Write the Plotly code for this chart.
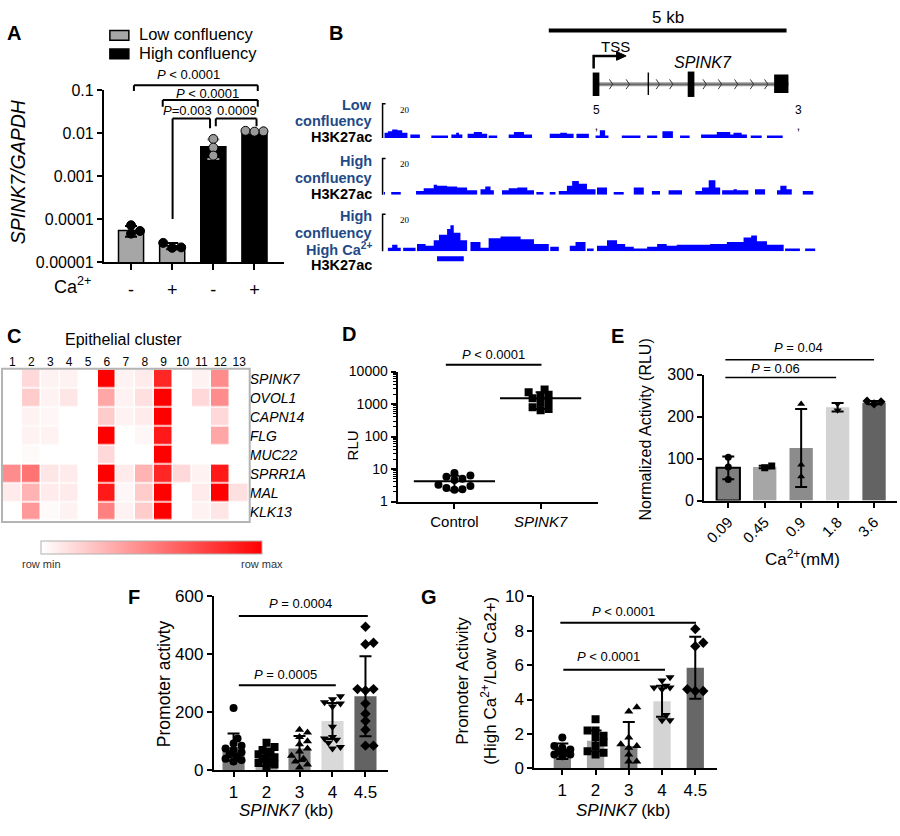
import numpy as np
import plotly.graph_objects as go

W, H = 900, 836
FONT = "Liberation Sans, Arial, sans-serif"

# ---------------- DATA ----------------
# Panel A
a_groups = ["Low confluency", "High confluency"]
a_ca = ["-", "+", "-", "+"]
a_mean = [5.4e-5, 2.4e-5, 4.8e-3, 1.05e-2]
a_sd = [1.5e-5, 0.4e-5, 2.3e-3, 0.05e-2]
a_points = [[7.2e-5, 5.3e-5, 4.6e-5], [2.8e-5, 2.2e-5, 2.15e-5],
            [7.3e-3, 4.6e-3, 3.0e-3], [1.13e-2, 1.1e-2, 1.08e-2]]
a_colors = ["#a6a6a6", "black"]

# Panel B: H3K27ac signal segments (start kb, end kb, height)
trk_low = [(0.02, 0.09, 3), (0.09, 0.18, 4), (0.18, 0.29, 5), (0.29, 0.39, 4.5), (0.39, 0.50, 3),
           (0.56, 0.76, 2), (1.00, 1.35, 1.5), (1.42, 1.52, 2), (1.52, 1.58, 3), (1.58, 1.65, 2),
           (1.76, 1.89, 2.5), (1.89, 2.06, 3.5), (2.06, 2.17, 2.5), (2.20, 2.38, 1.5),
           (2.62, 2.73, 2), (2.73, 2.94, 3.5), (2.94, 3.11, 2), (3.48, 3.70, 2.5), (3.70, 3.84, 3),
           (3.84, 3.98, 2.5), (4.04, 4.30, 2.5), (4.44, 4.53, 1.5), (4.53, 4.64, 4.5), (4.64, 4.71, 1.5),
           (4.99, 5.38, 1.5), (5.52, 5.73, 1.5), (5.84, 6.06, 4), (6.21, 6.41, 1.5),
           (6.65, 6.98, 2), (6.98, 7.26, 3.5), (7.26, 7.33, 2), (7.33, 7.50, 3), (7.50, 7.61, 2),
           (7.69, 7.92, 1.5), (8.03, 8.36, 1.5)]
trk_high = [(0.0, 0.03, 1.5), (0.16, 0.36, 1.5), (0.68, 0.84, 2), (0.84, 1.05, 3.5), (1.05, 1.12, 5.5),
            (1.12, 1.33, 5), (1.33, 1.54, 4.5), (1.54, 1.75, 4), (1.75, 1.96, 2.5),
            (2.03, 2.13, 3), (2.13, 2.24, 4.5), (2.24, 2.31, 2.5), (2.48, 2.62, 2.5), (2.62, 2.80, 3.5),
            (2.80, 3.01, 4), (3.01, 3.15, 2.5), (3.20, 3.35, 1.5), (3.48, 3.60, 1.5),
            (3.67, 3.84, 2), (3.84, 3.95, 5), (3.95, 4.09, 7.5), (4.09, 4.26, 6), (4.26, 4.44, 3),
            (4.47, 4.68, 4), (4.82, 5.03, 1.5), (5.24, 5.45, 4), (5.62, 5.79, 2), (5.97, 6.25, 2.5),
            (6.53, 6.67, 2), (6.67, 6.81, 4), (6.81, 6.95, 8), (6.95, 7.05, 4),
            (7.09, 7.33, 2.5), (7.33, 7.40, 3), (7.40, 7.64, 2.5), (7.78, 7.99, 3),
            (8.24, 8.31, 2.5), (8.31, 8.44, 5), (8.44, 8.55, 3), (8.78, 9.00, 2)]
trk_ca = [(0.09, 0.18, 2), (0.18, 0.29, 3.5), (0.29, 0.36, 2), (0.41, 0.67, 2),
          (0.70, 0.88, 4), (0.88, 1.05, 3), (1.05, 1.16, 6), (1.16, 1.33, 9), (1.33, 1.40, 12),
          (1.40, 1.47, 14), (1.47, 1.61, 10), (1.61, 1.75, 6), (1.82, 2.03, 5), (2.03, 2.20, 2),
          (2.20, 2.45, 7), (2.45, 2.87, 8), (2.87, 3.15, 6.5), (3.15, 3.46, 4), (3.49, 3.67, 2.5),
          (3.90, 4.02, 3), (4.02, 4.23, 5), (4.26, 4.40, 1.5), (4.47, 4.68, 3), (4.68, 4.89, 6),
          (4.89, 5.06, 4), (5.06, 5.24, 2.5), (5.24, 5.52, 1.5), (5.52, 5.73, 2.5), (5.73, 5.93, 4),
          (5.93, 6.14, 3), (6.14, 6.49, 3.5), (6.49, 6.84, 3.5), (6.84, 7.19, 4), (7.19, 7.54, 5),
          (7.54, 7.70, 7.5), (7.70, 7.82, 8.5), (7.82, 8.03, 5.5), (8.03, 8.38, 3.5),
          (8.41, 8.72, 1.5), (8.83, 9.04, 1.5)]
track_names = [["Low", "confluency", "H3K27ac"],
               ["High", "confluency", "H3K27ac"],
               ["High", "confluency", "High Ca<sup>2+</sup>", "H3K27ac"]]
gene_tss = 4.40
gene_end = 8.48
gene_exons = [(4.38, 4.52, 65, 89), (5.53, 5.56, 65, 88), (6.37, 6.51, 64, 90), (8.18, 8.48, 67, 86)]
intron_marks = [4.78, 5.13, 5.76, 6.04, 6.74, 7.06, 7.40, 7.73, 8.03]
scale_bar = (3.46, 8.44)
enhancer = (1.12, 1.68)

# Panel C heatmap
c_clusters = list(range(1, 14))
c_genes = ["SPINK7", "OVOL1", "CAPN14", "FLG", "MUC22", "SPRR1A", "MAL", "KLK13"]
c_z = [
    [0, 0.15, 0.05, 0.05, 0, 1.0, 0.05, 0.08, 0.85, 0, 0.05, 0.45, 0],
    [0, 0.2, 0.05, 0.1, 0, 0.35, 0.05, 0.12, 1.0, 0, 0.15, 0.45, 0],
    [0, 0.05, 0.03, 0, 0, 0.2, 0.05, 0.08, 1.0, 0, 0, 0.15, 0],
    [0, 0.05, 0.05, 0, 0, 1.0, 0, 0.03, 0.9, 0, 0, 0.35, 0],
    [0, 0.02, 0, 0, 0, 0.15, 0, 0, 1.0, 0, 0, 0, 0],
    [0.45, 0.55, 0.1, 0.08, 0, 1.0, 0.08, 0.3, 0.85, 0.15, 0.05, 0.9, 0],
    [0.08, 0.3, 0.08, 0.08, 0, 0.9, 0.03, 0.2, 1.0, 0, 0.08, 1.0, 0.12],
    [0, 0.4, 0.02, 0.05, 0, 0.5, 0.05, 0.2, 1.0, 0, 0.05, 0.1, 0],
]

# Panel D
d_groups = ["Control", "SPINK7"]
d_points = [[7.5, 6.3, 5.8, 5.0, 4.6, 3.3, 3.0, 2.6, 2.4, 2.3],
            [2800, 2300, 1950, 1800, 1500, 1250, 1100, 800, 700, 650]]
d_mean = [4.2, 1500]
d_sd = [2.0, 800]

# Panel E
e_conc = ["0.09", "0.45", "0.9", "1.8", "3.6"]
e_mean = [78, 80, 125, 222, 233]
e_sd = [27, 3, 93, 10, 4]
e_points = [[103, 80, 50], [78, 82], [230, 85, 57], [230, 215], [230, 235, 237]]
e_colors = ["#7f7f7f", "#a6a6a6", "#8c8c8c", "#d3d3d3", "#636363"]

# Panel F
kb_labels = ["1", "2", "3", "4", "4.5"]
f_mean = [80, 45, 75, 170, 255]
f_sd = [47, 30, 43, 62, 138]
f_points = [[215, 110, 92, 85, 75, 70, 62, 55, 48, 40, 35, 30],
            [95, 80, 70, 60, 55, 50, 45, 40, 30, 25, 20, 15],
            [140, 130, 115, 100, 90, 75, 65, 50, 40, 30, 20, 10],
            [255, 245, 235, 230, 220, 150, 115, 110, 105, 95, 80, 75],
            [495, 440, 435, 280, 280, 275, 230, 195, 170, 140, 85, 85]]
f_colors = ["#7a7a7a", "#a9a9a9", "#808080", "#d9d9d9", "#636363"]

# Panel G
g_mean = [1.0, 1.6, 1.3, 3.9, 5.85]
g_sd = [0.45, 0.6, 1.4, 0.9, 1.8]
g_points = [[1.8, 1.3, 1.2, 1.1, 1.0, 0.9, 0.8, 0.8, 0.7],
            [2.85, 2.2, 2.2, 1.9, 1.8, 1.5, 1.3, 1.0, 0.9, 0.8],
            [3.55, 3.3, 1.8, 1.4, 1.3, 1.2, 0.8, 0.4, 0.4],
            [5.3, 5.1, 4.8, 4.7, 4.7, 4.6, 3.1, 2.8, 2.8],
            [8.1, 7.3, 7.1, 4.6, 4.5, 4.5]]
g_colors = ["#858585", "#aaaaaa", "#7f7f7f", "#d4d4d4", "#676767"]
symbols = ["circle", "square", "triangle-up", "triangle-down", "diamond"]


# ---------------- helpers ----------------
def xdom(a, b):
    return [a / W, b / W]


def ydom(top, bot):
    return [1 - bot / H, 1 - top / H]


def PX(x):
    return x / W


def PY(y):
    return 1 - y / H


def swarm(vals, center, ypx, xscale, size, maxoff):
    """simple beeswarm layout: horizontal offsets so that points do not pile up"""
    idx = sorted(range(len(vals)), key=lambda i: vals[i])
    step = size * 0.5
    dmin = size * 0.8
    cands = [0.0]
    j = 1
    while j * step <= maxoff:
        cands += [j * step, -j * step]
        j += 1
    placed = []
    xs = [0] * len(vals)
    for i in idx:
        yp = ypx(vals[i])
        best, bestd = 0.0, -1
        for off in cands:
            d = min([np.hypot(off - ox, yp - oy) for ox, oy in placed] or [1e9])
            if d >= dmin:
                best = off
                break
            if d > bestd:
                best, bestd = off, d
        placed.append((best, yp))
        xs[i] = center + best / xscale
    return xs


def lin_px(dom_px, rng):
    return lambda v: (v - rng[0]) / (rng[1] - rng[0]) * dom_px


def log_px(dom_px, rng):
    return lambda v: (np.log10(v) - rng[0]) / (rng[1] - rng[0]) * dom_px


annotations = []
shapes = []


def ann(text, x, y, size=13, xref="paper", xanchor="center", yanchor="middle", angle=0,
        color="black", family=FONT):
    annotations.append(dict(text=text, x=PX(x) if xref == "paper" else x, y=PY(y), xref=xref,
                            yref="paper", showarrow=False, xanchor=xanchor, yanchor=yanchor,
                            textangle=angle, font=dict(size=size, color=color, family=family)))


def hline(xref, x0, x1, y, width=2, color="black"):
    shapes.append(dict(type="line", xref=xref, yref="paper", x0=x0, x1=x1, y0=PY(y), y1=PY(y),
                       line=dict(color=color, width=width)))


def vline(xref, x, y0, y1, width=2, color="black"):
    shapes.append(dict(type="line", xref=xref, yref="paper", x0=x, x1=x, y0=PY(y0), y1=PY(y1),
                       line=dict(color=color, width=width)))


fig = go.Figure()
axc = dict(showline=True, linecolor="black", linewidth=2, ticks="outside", ticklen=5, tickwidth=2,
           tickcolor="black", showgrid=False, zeroline=False, fixedrange=True)

# ---------------- Panel A ----------------
A_x = [-0.66, 3.71]
A_y = [-5, -1]
a_ypx = log_px(259 - 83, A_y)
a_xs = 180 / (A_x[1] - A_x[0])
fig.add_trace(go.Bar(x=[0, 1], y=a_mean[0:2], name=a_groups[0], width=0.61,
                     marker=dict(color=a_colors[0], line=dict(color="black", width=1.5)),
                     error_y=dict(type="data", array=a_sd[0:2], color="black", thickness=2, width=6),
                     xaxis="x", yaxis="y"))
fig.add_trace(go.Bar(x=[2, 3], y=a_mean[2:4], name=a_groups[1], width=0.61,
                     marker=dict(color=a_colors[1], line=dict(color="black", width=1.5)),
                     error_y=dict(type="data", array=a_sd[2:4], color="#9a9a9a", thickness=2, width=6),
                     xaxis="x", yaxis="y"))
for i, pts in enumerate(a_points):
    fig.add_trace(go.Scatter(x=swarm(pts, i, a_ypx, a_xs, 9, 11), y=pts, mode="markers", showlegend=False,
                             marker=dict(size=9, color="black" if i < 2 else "#9a9a9a",
                                         line=dict(color="black", width=1)),
                             xaxis="x", yaxis="y"))
# legend (drawn as key boxes + labels)
for k, (name, col) in enumerate(zip(a_groups, a_colors)):
    yc = 27 + 19 * k
    shapes.append(dict(type="rect", xref="paper", yref="paper", x0=PX(109), x1=PX(128),
                       y0=PY(yc + 5), y1=PY(yc - 5), fillcolor=col, line=dict(color="black", width=1.5)))
    ann(name, 136, yc - 1, 16.5, xanchor="left")
# brackets A
hline("x", 0.07, 3.08, 78); vline("x", 0.07, 78, 84); vline("x", 3.08, 78, 84)
hline("x", 0.77, 3.08, 93); vline("x", 0.77, 93, 100); vline("x", 3.08, 93, 100)
hline("x", 1.01, 1.92, 112); vline("x", 1.01, 112, 215); vline("x", 1.92, 112, 122)
hline("x", 2.06, 3.05, 112); vline("x", 2.06, 112, 120); vline("x", 3.05, 112, 120)
ann("<i>P</i> < 0.0001", 1.40, 67, 13, xref="x")
ann("<i>P</i> < 0.0001", 1.86, 86, 13, xref="x")
ann("<i>P</i>=0.003", 1.38, 104, 13, xref="x")
ann("0.0009", 2.57, 104, 13, xref="x")
ann("<i>SPINK7/GAPDH</i>", 17, 166, 19.5, angle=-90)
ann("Ca<sup>2+</sup>", 72, 283, 18)

# ---------------- Panel B ----------------
for segs, ya in [(trk_low, "y2"), (trk_high, "y3"), (trk_ca, "y4")]:
    xs, ys = [], []
    for s, e, h in segs:
        xs += [s, s, e, e, s, None]
        ys += [0, h, h, 0, 0, None]
    fig.add_trace(go.Scatter(x=xs, y=ys, mode="lines", fill="toself", fillcolor="#0000ff",
                             line=dict(width=0, color="#0000ff"), showlegend=False, hoverinfo="skip",
                             xaxis="x2", yaxis=ya))
# scale bar and gene model
hline("x2", scale_bar[0], scale_bar[1], 22, width=4)
ann("5 kb", (scale_bar[0] + scale_bar[1]) / 2, 9, 17, xref="x2")
hline("x2", gene_tss, gene_end, 77, width=4, color="#9a9a9a")
hline("x2", gene_tss, gene_end, 77, width=1, color="#555555")
for x0, x1, t, b in gene_exons:
    shapes.append(dict(type="rect", xref="x2", yref="paper", x0=x0, x1=x1, y0=PY(b), y1=PY(t),
                       fillcolor="black", line=dict(width=0)))
for m in intron_marks:
    shapes.append(dict(type="path", xref="x2", yref="paper",
                       path=f"M {m - 0.05} {PY(72)} L {m + 0.02} {PY(77)} L {m - 0.05} {PY(82)}",
                       line=dict(color="#333333", width=1)))
# TSS bent arrow
shapes.append(dict(type="path", xref="x2", yref="paper",
                   path=f"M {gene_tss} {PY(61)} L {gene_tss} {PY(48)} L {gene_tss + 0.52} {PY(48)}",
                   line=dict(color="black", width=2.5)))
shapes.append(dict(type="path", xref="x2", yref="paper",
                   path=f"M {gene_tss + 0.48} {PY(43.5)} L {gene_tss + 0.68} {PY(48)} "
                        f"L {gene_tss + 0.48} {PY(52.5)} Z",
                   fillcolor="black", line=dict(color="black", width=1)))
ann("TSS", 4.85, 38, 15, xref="x2")
ann("<i>SPINK7</i>", 6.68, 55, 16, xref="x2")
ann("5<br>,", gene_tss + 0.05, 112, 12, xref="x2")
ann("3<br>,", 8.70, 112, 12, xref="x2")
shapes.append(dict(type="rect", xref="x2", yref="paper", x0=enhancer[0], x1=enhancer[1],
                   y0=PY(258), y1=PY(253), fillcolor="#0000ff", line=dict(width=0)))
BLUE = "#1f4a87"
line_y = [[98, 115, 131], [156, 173, 189], [212, 229, 246, 262]]
for (top, bot), names, ys_ in zip([(97, 132), (153, 190), (210, 248)], track_names, line_y):
    shapes.append(dict(type="path", xref="paper", yref="paper",
                       path=f"M {PX(385)} {PY(top)} L {PX(382)} {PY(top)} L {PX(382)} {PY(bot)}",
                       line=dict(color="black", width=1.5)))
    ann("20", 404, top + 6, 9, family="Liberation Serif, serif")
    for j, (nm, yy) in enumerate(zip(names, ys_)):
        col = "black" if j == len(names) - 1 else BLUE
        ann(f"<b>{nm}</b>", 373, yy, 14.5, xanchor="right", color=col)

# ---------------- Panel C ----------------
fig.add_trace(go.Heatmap(z=c_z, x=c_clusters, y=c_genes, zmin=0, zmax=1, xgap=1.5, ygap=1.5,
                         colorscale=[[0, "#ffffff"], [1, "#ff0000"]], hoverinfo="skip",
                         colorbar=dict(orientation="h", x=PX(150.5), xanchor="center", y=PY(551.5),
                                       yanchor="middle", len=221, lenmode="pixels", thickness=13,
                                       thicknessmode="pixels", outlinewidth=1, outlinecolor="#b0b0b0",
                                       showticklabels=False, ticks="", xpad=0, ypad=0),
                         xaxis="x3", yaxis="y5"))
shapes.append(dict(type="rect", xref="paper", yref="paper", x0=PX(1), x1=PX(249), y0=PY(525), y1=PY(368),
                   line=dict(color="#b4b4b4", width=2)))
ann("Epithelial cluster", 123, 338, 16)
ann("row min", 41, 568, 11, color="#333333")
ann("row max", 261, 568, 11, color="#333333")

# ---------------- Panel D ----------------
D_x = [-0.66, 1.67]
D_y = [0, 4]
d_ypx = log_px(504 - 371, D_y)
d_xs = 201 / (D_x[1] - D_x[0])
for i, pts in enumerate(d_points):
    fig.add_trace(go.Scatter(x=swarm(pts, i, d_ypx, d_xs, 8, 20), y=pts, mode="markers", showlegend=False,
                             marker=dict(size=8, color="black", symbol=["circle", "square"][i]),
                             xaxis="x4", yaxis="y6"))
fig.add_trace(go.Scatter(x=[0, 1], y=d_mean, mode="markers", showlegend=False,
                         marker=dict(symbol="line-ew", size=58, line=dict(color="black", width=2)),
                         error_y=dict(type="data", array=d_sd, color="black", thickness=2, width=5),
                         xaxis="x4", yaxis="y6"))
hline("x4", -0.10, 1.01, 364)
ann("<i>P</i> < 0.0001", 0.45, 354, 13, xref="x4")
ann("RLU", 352, 447, 15, angle=-90)

# ---------------- Panel E ----------------
E_x = [-0.66, 4.63]
E_y = [0, 300]
e_ypx = lin_px(503 - 374, E_y)
e_xs = 193 / (E_x[1] - E_x[0])
fig.add_trace(go.Bar(x=list(range(5)), y=e_mean, width=0.64, showlegend=False,
                     marker=dict(color=e_colors, line=dict(color="black", width=[2, 0, 0, 0, 0])),
                     error_y=dict(type="data", array=e_sd, color="black", thickness=2, width=6),
                     xaxis="x5", yaxis="y7"))
for i, pts in enumerate(e_points):
    fig.add_trace(go.Scatter(x=swarm(pts, i, e_ypx, e_xs, 7, 8), y=pts, mode="markers", showlegend=False,
                             marker=dict(size=7, color="black", symbol=symbols[i]),
                             xaxis="x5", yaxis="y7"))
hline("x5", -0.08, 4.0, 359, width=1.5)
ann("<i>P</i> = 0.04", 1.92, 346, 13, xref="x5")
hline("x5", -0.08, 2.96, 377, width=1.5)
ann("<i>P</i> = 0.06", 1.29, 368, 13, xref="x5")
ann("Normalized Activity (RLU)", 645, 430, 16, angle=-90)
ann("Ca<sup>2+</sup>(mM)", 802, 562, 17)

# ---------------- Panel F ----------------
F_x = [-0.6, 4.67]
F_y = [0, 600]
f_ypx = lin_px(779 - 601, F_y)
f_xs = 174 / (F_x[1] - F_x[0])
fig.add_trace(go.Bar(x=list(range(5)), y=f_mean, width=0.67, showlegend=False,
                     marker=dict(color=f_colors, line=dict(width=0)),
                     error_y=dict(type="data", array=f_sd, color="black", thickness=2, width=6),
                     xaxis="x6", yaxis="y8"))
for i, pts in enumerate(f_points):
    fig.add_trace(go.Scatter(x=swarm(pts, i, f_ypx, f_xs, 8, 10), y=pts, mode="markers", showlegend=False,
                             marker=dict(size=8, color="black", symbol=symbols[i]),
                             xaxis="x6", yaxis="y8"))
hline("x6", 0.16, 4.07, 621)
ann("<i>P</i> = 0.0004", 2.04, 608, 13, xref="x6")
hline("x6", 0.16, 3.10, 692)
ann("<i>P</i> = 0.0005", 1.58, 681, 13, xref="x6")
ann("Promoter activty", 163, 690, 17.5, angle=-90)
ann("<i>SPINK7</i> (kb)", 285, 820, 17)

# ---------------- Panel G ----------------
G_x = [-0.84, 4.66]
G_y = [0, 10]
g_ypx = lin_px(777 - 601, G_y)
g_xs = 183 / (G_x[1] - G_x[0])
fig.add_trace(go.Bar(x=list(range(5)), y=g_mean, width=0.52, showlegend=False,
                     marker=dict(color=g_colors, line=dict(width=0)),
                     error_y=dict(type="data", array=g_sd, color="black", thickness=2, width=6),
                     xaxis="x7", yaxis="y9"))
for i, pts in enumerate(g_points):
    fig.add_trace(go.Scatter(x=swarm(pts, i, g_ypx, g_xs, 8, 10), y=pts, mode="markers", showlegend=False,
                             marker=dict(size=8, color="black", symbol=symbols[i]),
                             xaxis="x7", yaxis="y9"))
hline("x7", -0.06, 4.02, 628)
ann("<i>P</i> < 0.0001", 1.83, 617, 13, xref="x7")
hline("x7", 0.03, 3.09, 676)
ann("<i>P</i> < 0.0001", 1.38, 663, 13, xref="x7")
ann("Promoter Activity", 462, 687, 17, angle=-90)
ann("(High Ca<sup>2+</sup>/Low Ca2+)", 489, 687, 17, angle=-90)
ann("<i>SPINK7</i> (kb)", 623, 820, 17)

# panel letters
for L, x, y in [("A", 13, 25), ("B", 335, 25), ("C", 13, 335), ("D", 348, 333), ("E", 617, 335),
                ("F", 133, 602), ("G", 428, 602)]:
    ann(f"<b>{L}</b>", x, y, 20)

minor_d = [m * 10 ** e for e in range(4) for m in range(2, 10)]

fig.update_layout(
    width=W, height=H, margin=dict(l=0, r=0, t=0, b=0, pad=0),
    paper_bgcolor="white", plot_bgcolor="white", barmode="overlay",
    font=dict(family=FONT, color="black", size=13),
    showlegend=False,
    annotations=annotations, shapes=shapes,
    xaxis=dict(axc, domain=xdom(103, 283), range=A_x, anchor="y", tickvals=[0, 1, 2, 3],
               ticktext=a_ca, tickfont=dict(size=18), ticklen=6, ticklabelstandoff=4),
    yaxis=dict(axc, domain=ydom(83, 259), type="log", range=A_y, anchor="x",
               tickvals=[1e-5, 1e-4, 1e-3, 1e-2, 1e-1],
               ticktext=["0.00001", "0.0001", "0.001", "0.01", "0.1"], tickfont=dict(size=16)),
    xaxis2=dict(domain=xdom(383, 817), range=[0, 9.08], anchor="y4", visible=False, fixedrange=True),
    yaxis2=dict(domain=ydom(97, 132), range=[0, 20], anchor="x2", visible=False, fixedrange=True),
    yaxis3=dict(domain=ydom(153, 190), range=[0, 20], anchor="x2", visible=False, fixedrange=True),
    yaxis4=dict(domain=ydom(210, 248), range=[0, 20], anchor="x2", visible=False, fixedrange=True),
    xaxis3=dict(domain=xdom(2, 248), range=[0.5, 13.5], anchor="y5", side="top", tickvals=c_clusters,
                ticks="", showline=False, showgrid=False, zeroline=False, tickfont=dict(size=12),
                fixedrange=True),
    yaxis5=dict(domain=ydom(369, 524), anchor="x3", side="right", autorange="reversed",
                tickvals=c_genes, ticktext=[f"<i>{g}</i>" for g in c_genes], ticks="", showline=False,
                showgrid=False, zeroline=False, tickfont=dict(size=14), fixedrange=True),
    xaxis4=dict(axc, domain=xdom(397, 598), range=D_x, anchor="y6", tickvals=[0, 1],
                ticktext=["Control", "<i>SPINK7</i>"], tickfont=dict(size=15)),
    yaxis6=dict(axc, domain=ydom(371, 504), type="log", range=D_y, anchor="x4",
                tickvals=[1, 10, 100, 1000, 10000], ticktext=["1", "10", "100", "1000", "10000"],
                tickfont=dict(size=14),
                minor=dict(ticks="outside", ticklen=3, tickwidth=1, tickcolor="black", tickvals=minor_d)),
    xaxis5=dict(axc, domain=xdom(704, 897), range=E_x, anchor="y7", tickvals=list(range(5)),
                ticktext=e_conc, tickangle=-45, tickfont=dict(size=15)),
    yaxis7=dict(axc, domain=ydom(374, 503), range=E_y, anchor="x5", tickvals=[0, 100, 200, 300],
                tickfont=dict(size=16)),
    xaxis6=dict(axc, domain=xdom(213, 387), range=F_x, anchor="y8", tickvals=list(range(5)),
                ticktext=kb_labels, tickfont=dict(size=17)),
    yaxis8=dict(axc, domain=ydom(601, 779), range=F_y, anchor="x6", tickvals=[0, 200, 400, 600],
                tickfont=dict(size=17)),
    xaxis7=dict(axc, domain=xdom(534, 717), range=G_x, anchor="y9", tickvals=list(range(5)),
                ticktext=kb_labels, tickfont=dict(size=17)),
    yaxis9=dict(axc, domain=ydom(601, 777), range=G_y, anchor="x7", tickvals=[0, 2, 4, 6, 8, 10],
                tickfont=dict(size=17)),
)

fig.write_html("out.html")
